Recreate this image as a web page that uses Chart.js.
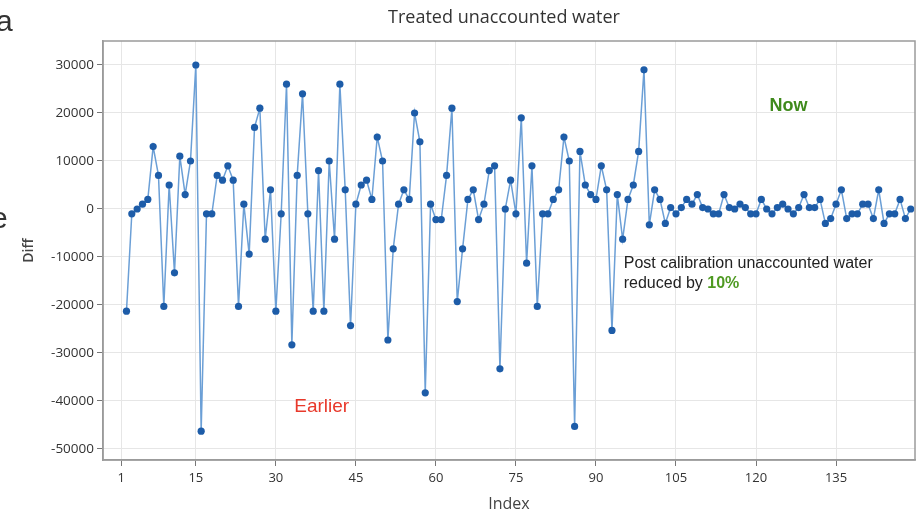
<!DOCTYPE html>
<html>
<head>
<meta charset="utf-8">
<script src="https://cdn.jsdelivr.net/npm/chart.js@4.4.1/dist/chart.umd.min.js"></script>
<style>
  body { margin: 0; background: #fff; overflow: hidden; }
  #wrap { position: relative; width: 920px; height: 516px; }
</style>
</head>
<body>
<div id="wrap"><canvas id="myChart" width="920" height="516"></canvas></div>
<script>
// index of the first plotted point
const firstIndex = 2;

// Diff values, index 2 .. 149
const diffs = [
  -21300, -1000, 0, 1000, 2000, 13000, 7000, -20300, 5000,          // 2-10
  -13300, 11000, 3000, 10000, 30000, -46300, -1000, -1000, 7000, 6000, // 11-20
  9000, 6000, -20300, 1000, -9400, 17000, 21000, -6300, 4000, -21300,  // 21-30
  -1000, 26000, -28300, 7000, 24000, -1000, -21300, 8000, -21300, 10000, // 31-40
  -6300, 26000, 4000, -24300, 1000, 5000, 6000, 2000, 15000, 10000,    // 41-50
  -27300, -8300, 1000, 4000, 2000, 20000, 14000, -38300, 1000, -2200,  // 51-60
  -2200, 7000, 21000, -19300, -8300, 2000, 4000, -2200, 1000, 8000,    // 61-70
  9000, -33300, 0, 6000, -1000, 19000, -11300, 9000, -20300, -1000,    // 71-80
  -1000, 2000, 4000, 15000, 10000, -45300, 12000, 5000, 3000, 2000,    // 81-90
  9000, 4000, -25300, 3000, -6300, 2000, 5000, 12000, 29000, -3300,    // 91-100
  4000, 2000, -3000, 300, -1000, 300, 2000, 1000, 3000, 300,           // 101-110
  0, -1000, -1000, 3000, 300, 0, 1000, 300, -1000, -1000,              // 111-120
  2000, 0, -1000, 300, 1000, 0, -1000, 300, 3000, 300,                 // 121-130
  300, 2000, -3000, -2000, 1000, 4000, -2000, -1000, -1000, 1000,      // 131-140
  1000, -2000, 4000, -3000, -1000, -1000, 2000, -2000, 0               // 141-149
];

const xTicks = [1, 15, 30, 45, 60, 75, 90, 105, 120, 135];
const yTicks = [30000, 20000, 10000, 0, -10000, -20000, -30000, -40000, -50000];

const points = diffs.map((v, i) => ({ x: firstIndex + i, y: v }));

const labelFont = '"Open Sans", "DejaVu Sans", sans-serif';

// frame, title, notes and the cut-off slide letters on the left
const extrasPlugin = {
  id: "extras",
  afterDraw(chart) {
    const ctx = chart.ctx;
    const a = chart.chartArea;
    const xs = chart.scales.x;
    const ys = chart.scales.y;
    ctx.save();

    ctx.strokeStyle = "#9b9b9b";
    ctx.lineWidth = 1.5;
    ctx.strokeRect(a.left, a.top, a.right - a.left, a.bottom - a.top);

    ctx.fillStyle = "#333";
    ctx.font = "18px " + labelFont;
    ctx.textAlign = "center";
    ctx.textBaseline = "middle";
    ctx.fillText("Treated unaccounted water", 504, 18);

    ctx.font = "bold 18px 'Liberation Sans', Arial, sans-serif";
    ctx.fillStyle = "#3f8a1c";
    ctx.fillText("Now", xs.getPixelForValue(126.1), ys.getPixelForValue(21500));

    ctx.font = "19px 'Liberation Sans', Arial, sans-serif";
    ctx.fillStyle = "#e8392b";
    ctx.fillText("Earlier", xs.getPixelForValue(38.6), ys.getPixelForValue(-41300));

    ctx.textAlign = "left";
    ctx.font = "16px 'Liberation Sans', Arial, sans-serif";
    ctx.fillStyle = "#222";
    const nx = xs.getPixelForValue(95.2);
    ctx.fillText("Post calibration unaccounted water", nx, ys.getPixelForValue(-11400));
    const y2 = ys.getPixelForValue(-15600);
    ctx.fillText("reduced by ", nx, y2);
    const w = ctx.measureText("reduced by ").width;
    ctx.font = "bold 16px 'Liberation Sans', Arial, sans-serif";
    ctx.fillStyle = "#4f9a22";
    ctx.fillText("10%", nx + w, y2);

    ctx.font = "30px 'Liberation Sans', Arial, sans-serif";
    ctx.fillStyle = "#333";
    ctx.textBaseline = "alphabetic";
    ctx.fillText("a", -4, 31);
    ctx.fillText("e", -9, 228);

    ctx.restore();
  }
};

const ctx = document.getElementById("myChart");

new Chart(ctx, {
  type: "line",
  data: {
    datasets: [
      {
        label: "Diff",
        data: points,
        borderColor: "#6b9fd6",
        borderWidth: 1.5,
        tension: 0,
        pointRadius: 3.6,
        pointBorderWidth: 0,
        pointBackgroundColor: "#1d5ca8",
      },
    ],
  },
  options: {
    responsive: false,
    animation: false,
    layout: { padding: { top: 41, right: 5, left: 0, bottom: 0 } },
    plugins: {
      legend: { display: false },
      tooltip: { enabled: false },
    },
    scales: {
      x: {
        type: "linear",
        min: -2.4,
        max: 149.8,
        afterBuildTicks: (scale) => {
          scale.ticks = xTicks.map((v) => ({ value: v }));
        },
        afterFit: (scale) => {
          scale.height = 56;
        },
        ticks: {
          color: "#333",
          font: { family: labelFont, size: 13 },
          padding: 4,
          maxRotation: 0,
          callback: (v) => String(v),
        },
        grid: { color: "#e6e6e6", tickColor: "#777", tickLength: 6 },
        border: { color: "#9b9b9b", width: 1.5 },
        title: {
          display: true,
          text: "Index",
          color: "#444",
          font: { family: labelFont, size: 16 },
          padding: { top: 0, bottom: 2 },
        },
      },
      y: {
        min: -52300,
        max: 35000,
        afterBuildTicks: (scale) => {
          scale.ticks = yTicks.map((v) => ({ value: v }));
        },
        afterFit: (scale) => {
          scale.width = 103;
        },
        ticks: {
          color: "#333",
          font: { family: labelFont, size: 13.5 },
          padding: 3,
          callback: (v) => String(v),
        },
        grid: { color: "#e6e6e6", tickColor: "#777", tickLength: 6 },
        border: { color: "#9b9b9b", width: 1.5 },
        title: {
          display: true,
          text: "Diff",
          color: "#444",
          font: { family: labelFont, size: 14, weight: "600" },
          padding: { top: 21, bottom: 0 },
        },
      },
    },
  },
  plugins: [extrasPlugin],
});
</script>
</body>
</html>
